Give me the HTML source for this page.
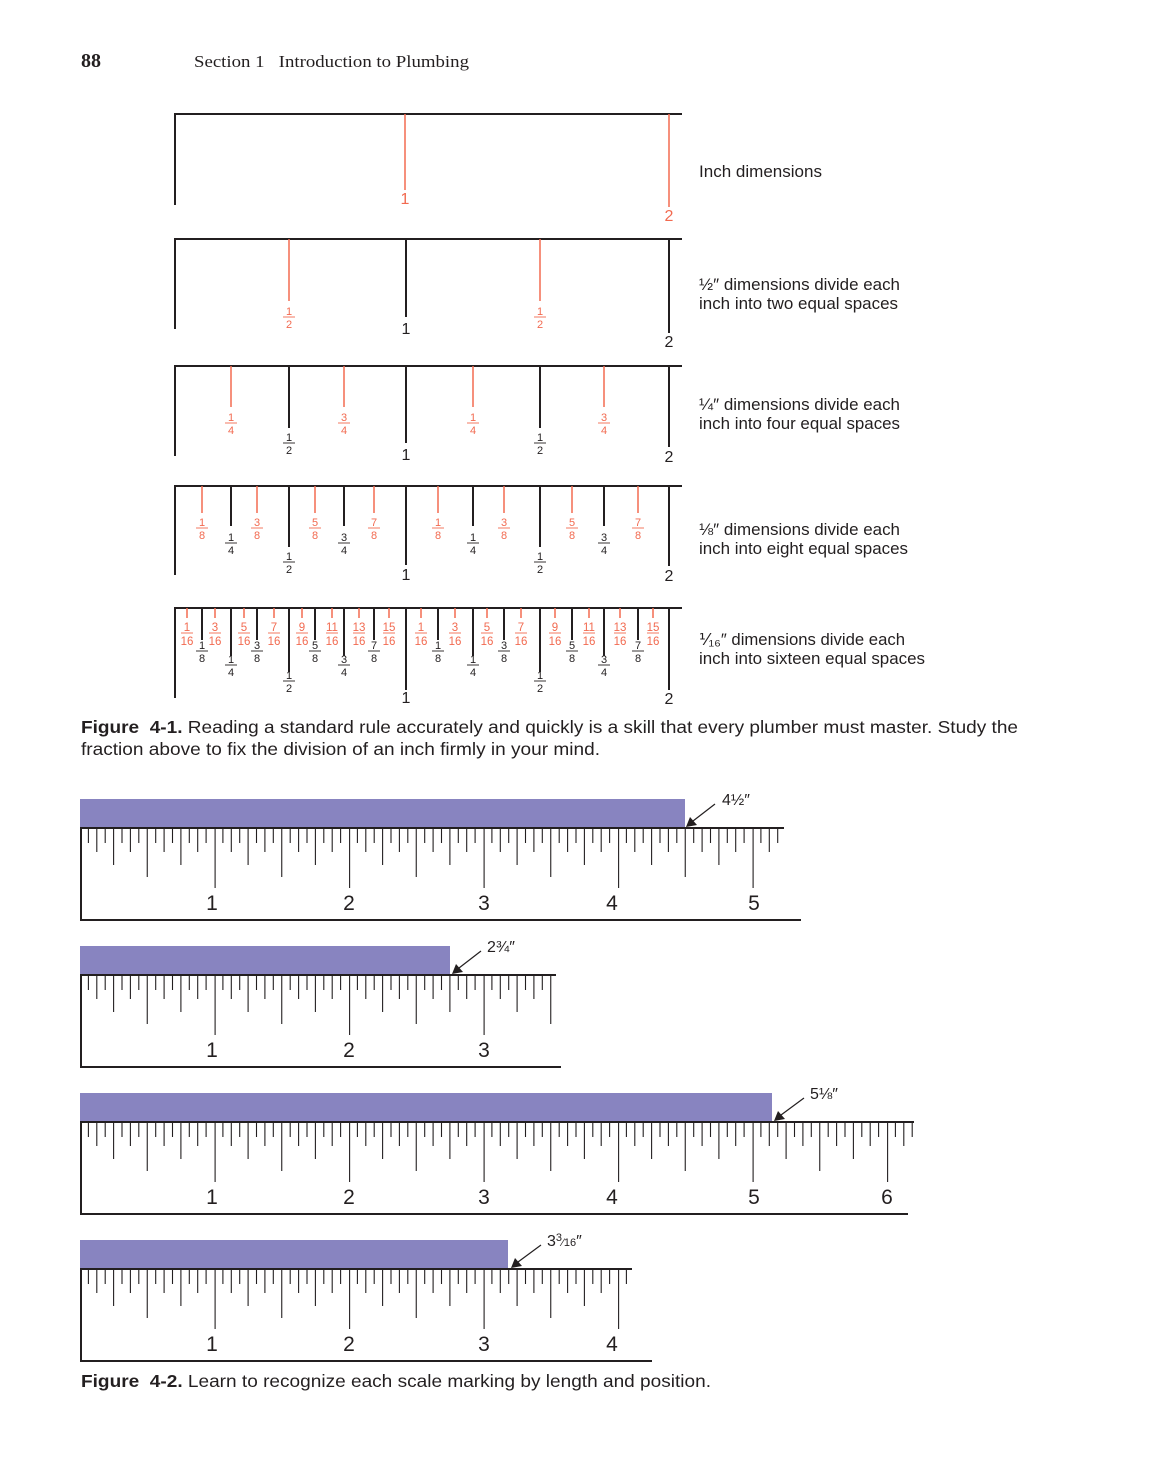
<!DOCTYPE html>
<html><head><meta charset="utf-8"><style>
html,body{margin:0;padding:0;background:#fff}
svg text{font-family:"Liberation Sans",sans-serif}
.f{font-size:11px;text-anchor:middle}
.r{fill:#f26a50}
.k{fill:#231f20}
.rl{stroke:#f26a50;stroke-width:1.5}
.kl{stroke:#231f20;stroke-width:2}
.fl{stroke-width:0.9}
.lab{font-size:16.5px;fill:#231f20}
.num{font-size:16px;text-anchor:middle}
.big{font-size:21px;text-anchor:middle;fill:#231f20}
</style></head><body>
<svg width="1156" height="1479" viewBox="0 0 1156 1479" xmlns="http://www.w3.org/2000/svg">
<text x="81" y="67" style="font-family:'Liberation Serif',serif;font-weight:bold;font-size:20px" fill="#231f20">88</text>
<text x="194" y="67" style="font-family:'Liberation Serif',serif;font-size:17px" fill="#231f20" textLength="275" lengthAdjust="spacingAndGlyphs">Section 1&#160;&#160;&#160;Introduction to Plumbing</text>

<!-- Row 1 -->
<g class="kl"><line x1="175" y1="114" x2="682" y2="114"/><line x1="175" y1="113" x2="175" y2="205"/></g>
<g class="rl"><line x1="405" y1="114" x2="405" y2="190"/><line x1="669" y1="114" x2="669" y2="207"/></g>
<text x="405" y="204" class="num r">1</text><text x="669" y="221" class="num r">2</text>

<!-- Row 2 -->
<g class="kl"><line x1="175" y1="239" x2="682" y2="239"/><line x1="175" y1="238" x2="175" y2="329"/><line x1="406" y1="239" x2="406" y2="317"/><line x1="669" y1="239" x2="669" y2="333"/></g>
<g class="rl"><line x1="289" y1="239" x2="289" y2="301"/><line x1="540" y1="239" x2="540" y2="301"/></g>
<g class="f r"><text x="289" y="315">1</text><text x="289" y="328">2</text><text x="540" y="315">1</text><text x="540" y="328">2</text></g>
<g stroke="#f26a50" class="fl"><line x1="283" y1="317" x2="295" y2="317"/><line x1="534" y1="317" x2="546" y2="317"/></g>
<text x="406" y="334" class="num k">1</text><text x="669" y="347" class="num k">2</text>

<!-- Row 3 -->
<g class="kl"><line x1="175" y1="366" x2="682" y2="366"/><line x1="175" y1="365" x2="175" y2="456"/><line x1="289" y1="366" x2="289" y2="428"/><line x1="540" y1="366" x2="540" y2="428"/><line x1="406" y1="366" x2="406" y2="443"/><line x1="669" y1="366" x2="669" y2="447"/></g>
<g class="rl"><line x1="231" y1="366" x2="231" y2="407"/><line x1="344" y1="366" x2="344" y2="407"/><line x1="473" y1="366" x2="473" y2="407"/><line x1="604" y1="366" x2="604" y2="407"/></g>
<g class="f r"><text x="231" y="421">1</text><text x="231" y="434">4</text><text x="344" y="421">3</text><text x="344" y="434">4</text><text x="473" y="421">1</text><text x="473" y="434">4</text><text x="604" y="421">3</text><text x="604" y="434">4</text></g>
<g stroke="#f26a50" class="fl"><line x1="225" y1="423" x2="237" y2="423"/><line x1="338" y1="423" x2="350" y2="423"/><line x1="467" y1="423" x2="479" y2="423"/><line x1="598" y1="423" x2="610" y2="423"/></g>
<g class="f k"><text x="289" y="441">1</text><text x="289" y="454">2</text><text x="540" y="441">1</text><text x="540" y="454">2</text></g>
<g stroke="#231f20" class="fl"><line x1="283" y1="443" x2="295" y2="443"/><line x1="534" y1="443" x2="546" y2="443"/></g>
<text x="406" y="460" class="num k">1</text><text x="669" y="462" class="num k">2</text>

<!-- Row 4 -->
<g class="kl"><line x1="175" y1="486" x2="682" y2="486"/><line x1="175" y1="485" x2="175" y2="575"/>
<line x1="231" y1="486" x2="231" y2="526"/><line x1="344" y1="486" x2="344" y2="526"/><line x1="473" y1="486" x2="473" y2="526"/><line x1="604" y1="486" x2="604" y2="526"/>
<line x1="289" y1="486" x2="289" y2="547"/><line x1="540" y1="486" x2="540" y2="547"/><line x1="406" y1="486" x2="406" y2="565"/><line x1="669" y1="486" x2="669" y2="566"/></g>
<g class="rl"><line x1="202" y1="486" x2="202" y2="513"/><line x1="257" y1="486" x2="257" y2="513"/><line x1="315" y1="486" x2="315" y2="513"/><line x1="374" y1="486" x2="374" y2="513"/><line x1="438" y1="486" x2="438" y2="513"/><line x1="504" y1="486" x2="504" y2="513"/><line x1="572" y1="486" x2="572" y2="513"/><line x1="638" y1="486" x2="638" y2="513"/></g>
<g class="f r"><text x="202" y="526">1</text><text x="202" y="539">8</text><text x="257" y="526">3</text><text x="257" y="539">8</text><text x="315" y="526">5</text><text x="315" y="539">8</text><text x="374" y="526">7</text><text x="374" y="539">8</text><text x="438" y="526">1</text><text x="438" y="539">8</text><text x="504" y="526">3</text><text x="504" y="539">8</text><text x="572" y="526">5</text><text x="572" y="539">8</text><text x="638" y="526">7</text><text x="638" y="539">8</text></g>
<g stroke="#f26a50" class="fl"><line x1="196" y1="528" x2="208" y2="528"/><line x1="251" y1="528" x2="263" y2="528"/><line x1="309" y1="528" x2="321" y2="528"/><line x1="368" y1="528" x2="380" y2="528"/><line x1="432" y1="528" x2="444" y2="528"/><line x1="498" y1="528" x2="510" y2="528"/><line x1="566" y1="528" x2="578" y2="528"/><line x1="632" y1="528" x2="644" y2="528"/></g>
<g class="f k"><text x="231" y="541">1</text><text x="231" y="554">4</text><text x="344" y="541">3</text><text x="344" y="554">4</text><text x="473" y="541">1</text><text x="473" y="554">4</text><text x="604" y="541">3</text><text x="604" y="554">4</text><text x="289" y="560">1</text><text x="289" y="573">2</text><text x="540" y="560">1</text><text x="540" y="573">2</text></g>
<g stroke="#231f20" class="fl"><line x1="225" y1="543" x2="237" y2="543"/><line x1="338" y1="543" x2="350" y2="543"/><line x1="467" y1="543" x2="479" y2="543"/><line x1="598" y1="543" x2="610" y2="543"/><line x1="283" y1="562" x2="295" y2="562"/><line x1="534" y1="562" x2="546" y2="562"/></g>
<text x="406" y="580" class="num k">1</text><text x="669" y="581" class="num k">2</text>

<!-- Row 5 -->
<g class="kl"><line x1="175" y1="608" x2="682" y2="608"/><line x1="175" y1="607" x2="175" y2="698"/>
<line x1="202" y1="608" x2="202" y2="640"/><line x1="257" y1="608" x2="257" y2="640"/><line x1="315" y1="608" x2="315" y2="640"/><line x1="374" y1="608" x2="374" y2="640"/><line x1="438" y1="608" x2="438" y2="640"/><line x1="504" y1="608" x2="504" y2="640"/><line x1="572" y1="608" x2="572" y2="640"/><line x1="638" y1="608" x2="638" y2="640"/>
<line x1="231" y1="608" x2="231" y2="656"/><line x1="344" y1="608" x2="344" y2="656"/><line x1="473" y1="608" x2="473" y2="656"/><line x1="604" y1="608" x2="604" y2="656"/>
<line x1="289" y1="608" x2="289" y2="672"/><line x1="540" y1="608" x2="540" y2="672"/><line x1="406" y1="608" x2="406" y2="690"/><line x1="669" y1="608" x2="669" y2="690"/></g>
<g class="rl"><line x1="187" y1="608" x2="187" y2="618"/><line x1="215" y1="608" x2="215" y2="618"/><line x1="244" y1="608" x2="244" y2="618"/><line x1="274" y1="608" x2="274" y2="618"/><line x1="302" y1="608" x2="302" y2="618"/><line x1="332" y1="608" x2="332" y2="618"/><line x1="359" y1="608" x2="359" y2="618"/><line x1="389" y1="608" x2="389" y2="618"/><line x1="421" y1="608" x2="421" y2="618"/><line x1="455" y1="608" x2="455" y2="618"/><line x1="487" y1="608" x2="487" y2="618"/><line x1="521" y1="608" x2="521" y2="618"/><line x1="555" y1="608" x2="555" y2="618"/><line x1="589" y1="608" x2="589" y2="618"/><line x1="620" y1="608" x2="620" y2="618"/><line x1="653" y1="608" x2="653" y2="618"/></g>
<g class="f r" style="font-size:11.5px">
<text x="187" y="631">1</text><text x="187" y="645">16</text><text x="215" y="631">3</text><text x="215" y="645">16</text><text x="244" y="631">5</text><text x="244" y="645">16</text><text x="274" y="631">7</text><text x="274" y="645">16</text><text x="302" y="631">9</text><text x="302" y="645">16</text><text x="332" y="631">11</text><text x="332" y="645">16</text><text x="359" y="631">13</text><text x="359" y="645">16</text><text x="389" y="631">15</text><text x="389" y="645">16</text>
<text x="421" y="631">1</text><text x="421" y="645">16</text><text x="455" y="631">3</text><text x="455" y="645">16</text><text x="487" y="631">5</text><text x="487" y="645">16</text><text x="521" y="631">7</text><text x="521" y="645">16</text><text x="555" y="631">9</text><text x="555" y="645">16</text><text x="589" y="631">11</text><text x="589" y="645">16</text><text x="620" y="631">13</text><text x="620" y="645">16</text><text x="653" y="631">15</text><text x="653" y="645">16</text></g>
<g stroke="#f26a50" class="fl"><line x1="181" y1="633" x2="193" y2="633"/><line x1="209" y1="633" x2="221" y2="633"/><line x1="238" y1="633" x2="250" y2="633"/><line x1="268" y1="633" x2="280" y2="633"/><line x1="296" y1="633" x2="308" y2="633"/><line x1="326" y1="633" x2="338" y2="633"/><line x1="353" y1="633" x2="365" y2="633"/><line x1="383" y1="633" x2="395" y2="633"/><line x1="415" y1="633" x2="427" y2="633"/><line x1="449" y1="633" x2="461" y2="633"/><line x1="481" y1="633" x2="493" y2="633"/><line x1="515" y1="633" x2="527" y2="633"/><line x1="549" y1="633" x2="561" y2="633"/><line x1="583" y1="633" x2="595" y2="633"/><line x1="614" y1="633" x2="626" y2="633"/><line x1="647" y1="633" x2="659" y2="633"/></g>
<g class="f k">
<text x="202" y="649">1</text><text x="202" y="662">8</text><text x="257" y="649">3</text><text x="257" y="662">8</text><text x="315" y="649">5</text><text x="315" y="662">8</text><text x="374" y="649">7</text><text x="374" y="662">8</text><text x="438" y="649">1</text><text x="438" y="662">8</text><text x="504" y="649">3</text><text x="504" y="662">8</text><text x="572" y="649">5</text><text x="572" y="662">8</text><text x="638" y="649">7</text><text x="638" y="662">8</text>
<text x="231" y="663">1</text><text x="231" y="676">4</text><text x="344" y="663">3</text><text x="344" y="676">4</text><text x="473" y="663">1</text><text x="473" y="676">4</text><text x="604" y="663">3</text><text x="604" y="676">4</text>
<text x="289" y="679">1</text><text x="289" y="692">2</text><text x="540" y="679">1</text><text x="540" y="692">2</text></g>
<g stroke="#231f20" class="fl"><line x1="196" y1="651" x2="208" y2="651"/><line x1="251" y1="651" x2="263" y2="651"/><line x1="309" y1="651" x2="321" y2="651"/><line x1="368" y1="651" x2="380" y2="651"/><line x1="432" y1="651" x2="444" y2="651"/><line x1="498" y1="651" x2="510" y2="651"/><line x1="566" y1="651" x2="578" y2="651"/><line x1="632" y1="651" x2="644" y2="651"/>
<line x1="225" y1="665" x2="237" y2="665"/><line x1="338" y1="665" x2="350" y2="665"/><line x1="467" y1="665" x2="479" y2="665"/><line x1="598" y1="665" x2="610" y2="665"/><line x1="283" y1="681" x2="295" y2="681"/><line x1="534" y1="681" x2="546" y2="681"/></g>
<text x="406" y="703" class="num k">1</text><text x="669" y="704" class="num k">2</text>

<!-- right labels -->
<text x="699" y="177" class="lab" textLength="123" lengthAdjust="spacingAndGlyphs">Inch dimensions</text>
<text x="699" y="290" class="lab" textLength="201" lengthAdjust="spacingAndGlyphs">½″ dimensions divide each</text><text x="699" y="309" class="lab" textLength="199" lengthAdjust="spacingAndGlyphs">inch into two equal spaces</text>
<text x="699" y="410" class="lab" textLength="201" lengthAdjust="spacingAndGlyphs">¼″ dimensions divide each</text><text x="699" y="429" class="lab" textLength="201" lengthAdjust="spacingAndGlyphs">inch into four equal spaces</text>
<text x="699" y="535" class="lab" textLength="201" lengthAdjust="spacingAndGlyphs">⅛″ dimensions divide each</text><text x="699" y="554" class="lab" textLength="209" lengthAdjust="spacingAndGlyphs">inch into eight equal spaces</text>
<text x="699" y="645" class="lab" textLength="206" lengthAdjust="spacingAndGlyphs">⅟₁₆″ dimensions divide each</text><text x="699" y="664" class="lab" textLength="226" lengthAdjust="spacingAndGlyphs">inch into sixteen equal spaces</text>

<text x="81" y="733" style="font-size:17.5px" fill="#231f20" textLength="937" lengthAdjust="spacingAndGlyphs"><tspan font-weight="bold">Figure&#160; 4-1.</tspan> Reading a standard rule accurately and quickly is a skill that every plumber must master. Study the</text>
<text x="81" y="755" style="font-size:17.5px" fill="#231f20" textLength="519" lengthAdjust="spacingAndGlyphs">fraction above to fix the division of an inch firmly in your mind.</text>

<defs>
<pattern id="tk" patternUnits="userSpaceOnUse" x="80" y="0" width="134.5" height="1479">
<g stroke="#231f20" stroke-width="1.1">
<line x1="0.6" y1="0" x2="0.6" y2="60"/>
<line x1="8.4" y1="0" x2="8.4" y2="15"/><line x1="16.8" y1="0" x2="16.8" y2="24"/><line x1="25.2" y1="0" x2="25.2" y2="15"/><line x1="33.6" y1="0" x2="33.6" y2="37"/>
<line x1="42" y1="0" x2="42" y2="15"/><line x1="50.4" y1="0" x2="50.4" y2="24"/><line x1="58.8" y1="0" x2="58.8" y2="15"/><line x1="67.25" y1="0" x2="67.25" y2="49"/>
<line x1="75.7" y1="0" x2="75.7" y2="15"/><line x1="84.1" y1="0" x2="84.1" y2="24"/><line x1="92.5" y1="0" x2="92.5" y2="15"/><line x1="100.9" y1="0" x2="100.9" y2="37"/>
<line x1="109.3" y1="0" x2="109.3" y2="15"/><line x1="117.7" y1="0" x2="117.7" y2="24"/><line x1="126.1" y1="0" x2="126.1" y2="15"/>
</g></pattern>
</defs>

<!-- Ruler A -->
<g transform="translate(0,828)">
<rect x="80" y="-29" width="605" height="29" fill="#8884c0"/>
<rect x="80" y="0" width="705" height="62" fill="url(#tk)"/>
<g class="kl" stroke-width="2"><line x1="80" y1="0" x2="784" y2="0"/><line x1="81" y1="-1" x2="81" y2="93"/><line x1="80" y1="92" x2="801" y2="92"/></g>
<g class="big"><text x="212" y="82">1</text><text x="349" y="82">2</text><text x="484" y="82">3</text><text x="612" y="82">4</text><text x="754" y="82">5</text></g>
<line x1="715" y1="-24" x2="693" y2="-7" stroke="#231f20" stroke-width="1.2"/><polygon points="686,-1 690,-11 697,-3" fill="#231f20"/>
<text x="722" y="-23" style="font-size:16px" fill="#231f20">4½″</text>
</g>
<!-- Ruler B -->
<g transform="translate(0,975)">
<rect x="80" y="-29" width="370" height="29" fill="#8884c0"/>
<rect x="80" y="0" width="476" height="62" fill="url(#tk)"/>
<g class="kl"><line x1="80" y1="0" x2="556" y2="0"/><line x1="81" y1="-1" x2="81" y2="93"/><line x1="80" y1="92" x2="561" y2="92"/></g>
<g class="big"><text x="212" y="82">1</text><text x="349" y="82">2</text><text x="484" y="82">3</text></g>
<line x1="481" y1="-24" x2="459" y2="-7" stroke="#231f20" stroke-width="1.2"/><polygon points="452,-1 456,-11 463,-3" fill="#231f20"/>
<text x="487" y="-23" style="font-size:16px" fill="#231f20">2¾″</text>
</g>
<!-- Ruler C -->
<g transform="translate(0,1122)">
<rect x="80" y="-29" width="692" height="29" fill="#8884c0"/>
<rect x="80" y="0" width="835" height="62" fill="url(#tk)"/>
<g class="kl"><line x1="80" y1="0" x2="914" y2="0"/><line x1="81" y1="-1" x2="81" y2="93"/><line x1="80" y1="92" x2="908" y2="92"/></g>
<g class="big"><text x="212" y="82">1</text><text x="349" y="82">2</text><text x="484" y="82">3</text><text x="612" y="82">4</text><text x="754" y="82">5</text><text x="887" y="82">6</text></g>
<line x1="804" y1="-24" x2="781" y2="-7" stroke="#231f20" stroke-width="1.2"/><polygon points="774,-1 778,-11 785,-3" fill="#231f20"/>
<text x="810" y="-23" style="font-size:16px" fill="#231f20">5⅛″</text>
</g>
<!-- Ruler D -->
<g transform="translate(0,1269)">
<rect x="80" y="-29" width="428" height="29" fill="#8884c0"/>
<rect x="80" y="0" width="552" height="62" fill="url(#tk)"/>
<g class="kl"><line x1="80" y1="0" x2="632" y2="0"/><line x1="81" y1="-1" x2="81" y2="93"/><line x1="80" y1="92" x2="652" y2="92"/></g>
<g class="big"><text x="212" y="82">1</text><text x="349" y="82">2</text><text x="484" y="82">3</text><text x="612" y="82">4</text></g>
<line x1="541" y1="-24" x2="518" y2="-7" stroke="#231f20" stroke-width="1.2"/><polygon points="511,-1 515,-11 522,-3" fill="#231f20"/>
<text x="547" y="-23" style="font-size:16px" fill="#231f20">3<tspan font-size="11" dy="-5">3</tspan><tspan font-size="11" dy="5">⁄16</tspan>″</text>
</g>

<text x="81" y="1387" style="font-size:17.5px" fill="#231f20" textLength="630" lengthAdjust="spacingAndGlyphs"><tspan font-weight="bold">Figure&#160; 4-2.</tspan> Learn to recognize each scale marking by length and position.</text>
</svg>
</body></html>
